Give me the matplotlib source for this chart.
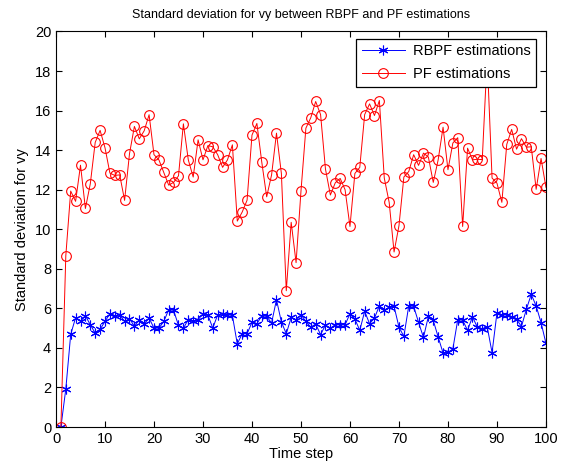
import numpy as np
import matplotlib
matplotlib.use("Agg")
import matplotlib.pyplot as plt

plt.rcParams['font.family'] = ['Liberation Sans', 'DejaVu Sans']

# time steps 1..100
steps = np.arange(1, 101)

rbpf_std = [
    0.00, 1.92, 4.68, 5.53, 5.34, 5.63, 5.17, 4.75, 4.94, 5.34,
    5.73, 5.63, 5.68, 5.34, 5.48, 5.09, 5.43, 5.21, 5.51, 5.00,
    5.00, 5.34, 5.93, 5.90, 5.14, 5.00, 5.43, 5.34, 5.43, 5.73,
    5.66, 5.00, 5.68, 5.73, 5.68, 5.64, 4.20, 4.72, 4.72, 5.29,
    5.22, 5.63, 5.59, 5.26, 6.44, 5.31, 4.72, 5.54, 5.43, 5.68,
    5.34, 5.05, 5.21, 4.67, 5.16, 5.00, 5.17, 5.17, 5.17, 5.73,
    5.46, 4.89, 5.85, 5.22, 5.51, 6.13, 5.90, 6.07, 6.10, 5.05,
    4.58, 6.13, 6.10, 5.29, 4.53, 5.59, 5.39, 4.55, 3.74, 3.77,
    3.95, 5.43, 5.40, 4.89, 5.57, 5.05, 4.97, 5.08, 3.76, 5.77,
    5.67, 5.67, 5.58, 5.45, 5.08, 5.95, 6.71, 6.12, 5.28, 4.23,
]

pf_std = [
    0.00, 8.66, 11.93, 11.41, 13.24, 11.05, 12.30, 14.39, 15.00, 14.12,
    12.84, 12.72, 12.75, 11.46, 13.82, 15.20, 14.57, 14.98, 15.79, 13.77,
    13.51, 12.87, 12.23, 12.37, 12.70, 15.33, 13.51, 12.64, 14.52, 13.51,
    14.23, 14.17, 13.77, 13.13, 13.51, 14.27, 10.41, 10.87, 11.47, 14.76,
    15.35, 13.39, 11.64, 12.75, 14.86, 12.82, 6.89, 10.35, 8.31, 11.93,
    15.11, 15.64, 16.46, 15.80, 13.04, 11.73, 12.35, 12.57, 12.00, 10.14,
    12.82, 13.13, 15.80, 16.34, 15.75, 16.51, 12.59, 11.36, 8.85, 10.18,
    12.64, 12.92, 13.77, 13.23, 13.85, 13.65, 12.37, 13.51, 15.16, 13.01,
    14.36, 14.63, 10.14, 14.10, 13.51, 13.54, 13.52, 18.70, 12.59, 12.33,
    11.36, 14.29, 15.05, 14.05, 14.58, 14.15, 14.17, 12.02, 13.58, 12.12,
]

fig = plt.figure(figsize=(5.64, 4.72), dpi=100)
ax = fig.add_axes([0.0993, 0.0953, 0.8687, 0.838])

asterisk = (6, 2, 0)
ax.plot(steps, rbpf_std, color="blue", linewidth=0.7, marker=asterisk,
        markersize=7, markeredgewidth=0.8, label="RBPF estimations")
ax.plot(steps, pf_std, color="red", linewidth=0.7, marker="o",
        markersize=7, markerfacecolor="none", markeredgewidth=0.8,
        label="PF estimations")

ax.set_xlim(0, 100)
ax.set_ylim(0, 20)
ax.set_xticks(np.arange(0, 101, 10))
ax.set_yticks(np.arange(0, 21, 2))
ax.tick_params(direction="in", top=True, right=True, labelsize=10.5, length=4)
for s in ax.spines.values():
    s.set_linewidth(0.8)

ax.set_title("Standard deviation for vy between RBPF and PF estimations", fontsize=9, pad=10)
ax.set_xlabel("Time step", fontsize=10.5, labelpad=1)
ax.set_ylabel("Standard deviation for vy", fontsize=10.5, labelpad=4)

leg = ax.legend(loc="upper right", bbox_to_anchor=(0.98, 0.982),
                fontsize=10.5, fancybox=False, framealpha=1,
                edgecolor="black", borderaxespad=0, handlelength=3.0,
                borderpad=0.4, labelspacing=0.6, handletextpad=0.5)
leg.get_frame().set_linewidth(0.9)

fig.savefig("out.png", dpi=100)
